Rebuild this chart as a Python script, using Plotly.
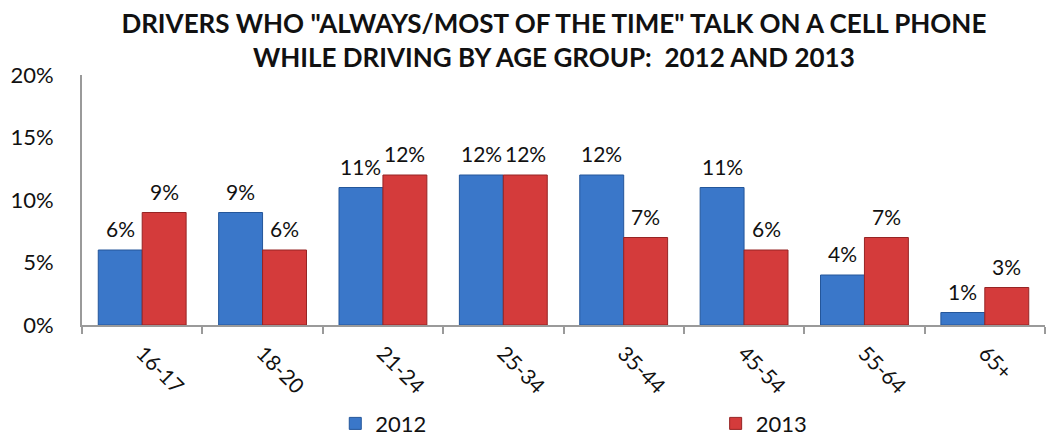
import plotly.graph_objects as go

age_groups = ["16-17", "18-20", "21-24", "25-34", "35-44", "45-54", "55-64", "65+"]
pct_2012 = [6, 9, 11, 12, 12, 11, 4, 1]
pct_2013 = [9, 6, 12, 12, 7, 6, 7, 3]

FONT = "Lato, Open Sans, sans-serif"
BAR_GAP = 0.27
CAT_PX = (1049 - 82 - 4) / len(age_groups)
HALF_BAR_PX = CAT_PX * (1 - BAR_GAP) / 4

fig = go.Figure()
fig.add_trace(go.Bar(
    name="2012", x=age_groups, y=pct_2012,
    marker=dict(color="#3a77c9", line=dict(color="#24569a", width=1)),
    legend="legend",
))
fig.add_trace(go.Bar(
    name="2013", x=age_groups, y=pct_2013,
    marker=dict(color="#d43b3b", line=dict(color="#962424", width=1)),
    legend="legend2",
))

# value labels above each bar
for values, side in ((pct_2012, -1), (pct_2013, 1)):
    for cat, v in zip(age_groups, values):
        fig.add_annotation(
            x=cat, y=v, text=f"{v}%", showarrow=False,
            xanchor="center", yanchor="bottom",
            xshift=side * HALF_BAR_PX, yshift=7,
            font=dict(family=FONT, size=21, color="#111"),
        )

legend_style = dict(
    orientation="h", xanchor="left", y=0.085, yanchor="top", yref="container",
    xref="paper", font=dict(family=FONT, size=22, color="#111"),
    itemwidth=30, bgcolor="rgba(0,0,0,0)",
)

fig.update_layout(
    width=1049, height=440,
    margin=dict(l=82, r=4, t=75, b=115, autoexpand=False),
    paper_bgcolor="white", plot_bgcolor="white",
    font=dict(family=FONT, size=20, color="#111"),
    title=dict(
        text="<b>DRIVERS WHO \"ALWAYS/MOST OF THE TIME\" TALK ON A CELL PHONE<br>WHILE DRIVING BY AGE GROUP:  2012 AND 2013</b>",
        x=0.49, xanchor="center", xref="paper",
        y=0.924, yanchor="middle", yref="container",
        font=dict(family=FONT, size=26, color="#111"),
    ),
    barmode="group", bargap=BAR_GAP, bargroupgap=0,
    showlegend=True,
    legend=dict(x=0.263, **legend_style),
    legend2=dict(x=0.658, **legend_style),
)
fig.update_yaxes(
    range=[0, 20], dtick=5, ticksuffix="%", showgrid=False, zeroline=False,
    showline=True, linecolor="#9a9a9a", linewidth=2,
    ticks="", ticklabelstandoff=22, automargin=False,
    tickfont=dict(family=FONT, size=22, color="#111"),
)
fig.update_xaxes(
    showline=True, linecolor="#9a9a9a", linewidth=2,
    ticks="outside", tickson="boundaries", ticklen=7, tickcolor="#9a9a9a", tickwidth=2,
    tickangle=45, automargin=False, ticklabelstandoff=6,
    tickfont=dict(family=FONT, size=21, color="#111"),
)

fig.write_html("out.html")
